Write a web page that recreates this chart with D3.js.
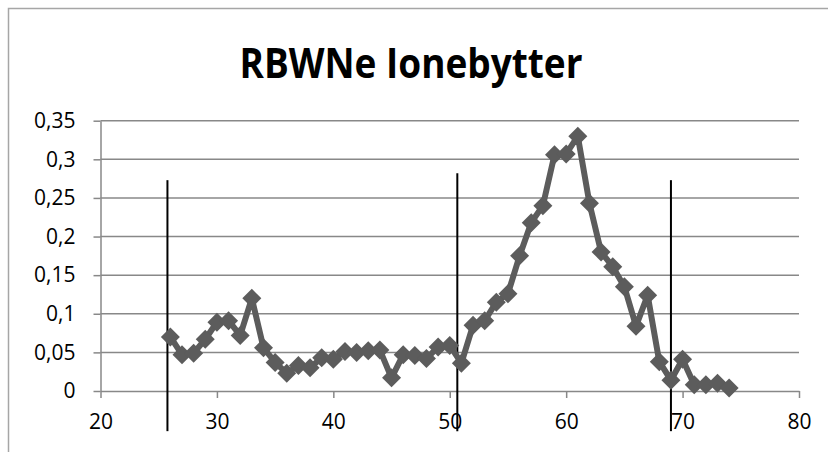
<!DOCTYPE html>
<html>
<head>
<meta charset="utf-8">
<script src="https://cdn.jsdelivr.net/npm/d3@7/dist/d3.min.js"></script>
<style>
  body { margin: 0; background: #fff; }
  svg { display: block; font-family: "Open Sans", "Liberation Sans", sans-serif; }
</style>
</head>
<body>
<div id="viz"></div>
<script>
'use strict';

// fraction number and value
var fractions = [26, 27, 28, 29, 30, 31, 32, 33, 34, 35, 36, 37, 38, 39, 40, 41, 42, 43, 44, 45,
                 46, 47, 48, 49, 50, 51, 52, 53, 54, 55, 56, 57, 58, 59, 60, 61, 62, 63, 64, 65,
                 66, 67, 68, 69, 70, 71, 72, 73, 74];
var values = [0.070, 0.047, 0.049, 0.067, 0.089, 0.091, 0.072, 0.120, 0.056, 0.037, 0.023, 0.033, 0.030, 0.043, 0.041, 0.051, 0.050, 0.052, 0.053, 0.017,
              0.047, 0.046, 0.042, 0.057, 0.059, 0.036, 0.085, 0.091, 0.115, 0.126, 0.175, 0.218, 0.240, 0.306, 0.307, 0.330, 0.243, 0.180, 0.161, 0.135,
              0.084, 0.124, 0.038, 0.014, 0.041, 0.008, 0.008, 0.010, 0.004];

// vertical separator lines: x position, top value, bottom value
var dividerX = [25.75, 50.65, 69.0];
var dividerTop = [0.273, 0.282, 0.273];
var dividerBottom = -0.052;

var xTicks = [20, 30, 40, 50, 60, 70, 80];
var yTicks = [0, 0.05, 0.1, 0.15, 0.2, 0.25, 0.3, 0.35];
var title = 'RBWNe Ionebytter';

var width = 828, height = 452;
var plotLeft = 100.5, plotRight = 799, plotTop = 120.7, plotBottom = 391;

var svg = d3.select('#viz').append('svg')
    .attr('width', width)
    .attr('height', height);

// chart frame (only top and left edges are visible)
svg.append('path')
    .attr('d', 'M8.5,452V8.5H828')
    .attr('fill', 'none')
    .attr('stroke', '#a6a6a6')
    .attr('stroke-width', 1.5);

svg.append('text')
    .attr('x', 411)
    .attr('y', 78)
    .attr('text-anchor', 'middle')
    .attr('textLength', 343)
    .attr('lengthAdjust', 'spacingAndGlyphs')
    .style('font-size', '41px')
    .style('font-weight', 'bold')
    .text(title);

var x = d3.scaleLinear().domain([20, 80]).range([plotLeft, plotRight]);
var y = d3.scaleLinear().domain([0, 0.35]).range([plotBottom, plotTop]);

var fmt = function(d) { return String(d).replace('.', ','); };

// horizontal gridlines
svg.append('g')
    .selectAll('line')
    .data(yTicks.slice(1))
    .join('line')
    .attr('x1', plotLeft).attr('x2', plotRight)
    .attr('y1', function(d) { return y(d); })
    .attr('y2', function(d) { return y(d); })
    .attr('stroke', '#888')
    .attr('stroke-width', 1.5);

var yAxis = svg.append('g')
    .attr('transform', 'translate(' + plotLeft + ',0)')
    .call(d3.axisLeft(y).tickValues(yTicks).tickFormat(fmt).tickSize(7).tickSizeOuter(0));

var xAxis = svg.append('g')
    .attr('transform', 'translate(0,' + plotBottom + ')')
    .call(d3.axisBottom(x).tickValues(xTicks).tickSize(7).tickSizeOuter(0));

[yAxis, xAxis].forEach(function(g) {
  g.select('.domain').attr('stroke', '#888').attr('stroke-width', 1.5);
  g.selectAll('.tick line').attr('stroke', '#888').attr('stroke-width', 1.5);
  g.selectAll('.tick text')
      .attr('fill', '#000')
      .style('font-size', '21px')
      .style('font-family', '"Open Sans", "Liberation Sans", sans-serif');
});
yAxis.selectAll('.tick text').attr('x', -25);
xAxis.selectAll('.tick text').attr('y', 23);

// vertical separators
svg.append('g')
    .selectAll('line')
    .data(dividerX)
    .join('line')
    .attr('x1', function(d) { return x(d); })
    .attr('x2', function(d) { return x(d); })
    .attr('y1', function(d, i) { return y(dividerTop[i]); })
    .attr('y2', y(dividerBottom))
    .attr('stroke', '#000')
    .attr('stroke-width', 2);

// series
var pts = fractions.map(function(f, i) { return [f, values[i]]; });

svg.append('path')
    .datum(pts)
    .attr('fill', 'none')
    .attr('stroke', '#5c5c5c')
    .attr('stroke-width', 6)
    .attr('stroke-linejoin', 'round')
    .attr('d', d3.line()
        .x(function(d) { return x(d[0]); })
        .y(function(d) { return y(d[1]); }));

var diamond = d3.symbol().type(d3.symbolDiamond2).size(230);
svg.append('g')
    .selectAll('path')
    .data(pts)
    .join('path')
    .attr('transform', function(d) { return 'translate(' + x(d[0]) + ',' + y(d[1]) + ')'; })
    .attr('d', diamond)
    .attr('fill', '#5c5c5c');
</script>
</body>
</html>
